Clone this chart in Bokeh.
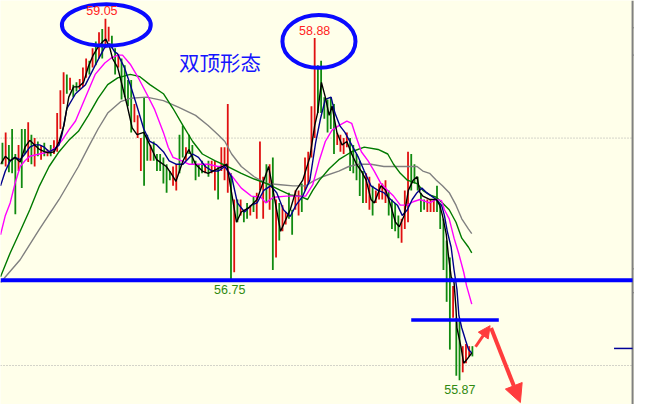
from bokeh.plotting import figure
from bokeh.models import Range1d, Arrow, NormalHead
from bokeh.core.properties import value
from bokeh.embed import file_html
from bokeh.resources import INLINE

# ---- price bars (bar index 0..146) ----
high = [57.96,58.05,57.94,58.08,57.86,57.94,58.08,58.08,58.14,58.03,
        58.00,57.97,57.94,57.96,57.90,57.94,57.98,58.22,58.42,58.58,
        58.56,58.53,58.47,58.49,58.52,58.62,58.70,58.68,58.79,58.85,
        58.93,58.96,59.05,58.98,58.90,58.79,58.74,58.70,58.64,58.51,
        58.51,58.30,58.20,58.00,58.36,58.03,57.94,57.97,57.86,57.86,
        57.83,57.77,57.71,57.75,57.77,58.03,58.11,57.92,58.03,57.94,
        57.80,57.77,57.80,57.77,57.80,57.80,57.80,57.75,57.92,57.92,
        58.30,57.69,57.46,57.46,57.46,57.37,57.43,57.41,57.49,57.52,
        57.97,57.66,57.77,57.77,57.83,57.46,57.43,57.41,57.35,57.52,
        57.37,57.54,57.54,57.60,57.83,57.88,58.28,58.88,58.64,58.68,
        58.36,58.34,58.36,58.30,58.05,58.03,58.00,58.05,58.00,57.94,
        57.86,57.80,57.71,57.69,57.66,57.58,57.54,57.60,57.60,57.63,
        57.54,57.46,57.43,57.32,57.29,57.54,57.88,57.86,57.77,57.66,
        57.52,57.46,57.46,57.46,57.46,57.58,57.41,57.29,57.10,56.95,
        56.70,56.42,56.39,56.17,56.19,56.17,56.17]
low = [57.77,57.75,57.70,57.69,57.33,57.71,57.56,57.86,57.79,57.77,
       57.75,57.84,57.81,57.84,57.84,57.84,57.86,57.88,58.08,58.30,
       58.39,58.42,58.36,58.41,58.43,58.45,58.53,58.56,58.62,58.64,
       58.70,58.70,58.79,58.85,58.79,58.56,58.62,58.34,58.36,58.28,
       58.05,58.14,58.00,57.71,57.58,57.80,57.80,57.80,57.71,57.71,
       57.60,57.52,57.63,57.58,57.54,57.69,57.83,57.80,57.86,57.77,
       57.63,57.66,57.69,57.69,57.66,57.69,57.54,57.46,57.71,57.63,
       57.52,56.75,56.82,57.26,57.32,57.26,57.29,57.32,57.35,57.29,
       57.54,57.29,57.43,57.37,56.84,56.95,57.10,57.18,57.24,57.29,
       57.15,57.37,57.32,57.35,57.54,57.60,57.83,58.00,58.22,58.22,
       58.17,58.05,58.08,57.86,57.94,57.88,57.86,57.92,57.71,57.69,
       57.63,57.49,57.43,57.43,57.37,57.32,57.43,57.46,57.46,57.43,
       57.32,57.20,57.18,57.12,57.08,57.20,57.26,57.54,57.60,57.54,
       57.35,57.37,57.35,57.35,57.35,57.35,57.20,56.84,56.56,56.14,
       56.42,55.91,55.87,55.94,56.02,56.08,56.08]
bull = [0,1,0,0,0,1,0,0,1,0,
        1,0,1,0,1,0,1,1,1,1,
        0,1,0,0,1,1,1,0,1,0,
        1,0,1,1,0,0,1,0,0,0,
        0,1,1,1,0,0,1,0,0,0,
        0,0,0,1,1,0,0,1,0,0,
        0,0,0,1,0,1,1,0,1,1,
        1,0,1,0,1,0,0,1,0,1,
        1,1,0,1,0,1,0,1,1,0,
        0,1,1,0,1,1,1,1,0,0,
        0,0,0,0,1,1,1,1,0,0,
        0,0,0,1,1,0,1,1,1,1,
        0,0,0,0,1,1,1,0,0,0,
        0,0,1,1,1,0,0,0,0,0,
        1,0,0,1,1,1,0]

# ---- moving averages: (bar index, price) ----
ma_black = [(-0.6,57.77),(0.9,57.84),(2.4,57.80),(3.9,57.83),(5.5,57.79),(7.0,57.92),(8.5,57.98),(10.0,57.94),
            (11.5,57.90),(13.0,57.88),(14.5,57.87),(16.1,57.88),(17.6,57.97),(19.1,58.11),(20.6,58.36),(22.1,58.45),
            (23.6,58.45),(25.2,58.49),(26.7,58.63),(28.2,58.73),(29.7,58.80),(31.2,58.85),(32.1,58.87),(33.3,58.80),
            (34.2,58.70),(35.8,58.62),(37.3,58.45),(38.8,58.28),(40.3,58.09),(41.8,58.03),(43.9,58.05),(45.8,57.94),
            (47.9,57.81),(50.9,57.75),(52.4,57.69),(53.9,57.62),(56.1,57.80),(57.9,57.90),(60.0,57.77),(62.1,57.71),
            (63.9,57.69),(68.2,57.75),(69.7,57.77),(72.7,57.26),(74.2,57.35),(76.7,57.39),(79.1,57.46),(81.2,57.63),
            (82.7,57.75),(84.2,57.52),(86.4,57.18),(89.4,57.37),(91.2,57.54),(93.3,57.63),(95.5,57.83),(97.0,58.11),
            (97.9,58.22),(99.1,58.49),(100.3,58.36),(101.5,58.20),(102.4,58.28),(103.9,58.05),(105.5,57.94),(107.0,57.97),
            (108.5,57.86),(110.0,57.77),(111.5,57.71),(113.0,57.63),(114.5,57.46),(115.5,57.43),(117.6,57.58),(119.1,57.54),
            (120.6,57.41),(122.1,57.26),(123.3,57.22),(124.8,57.32),(126.1,57.54),(127.6,57.63),(128.8,57.66),(129.7,57.52),
            (130.6,57.49),(132.7,57.46),(134.8,57.46),(135.8,57.41),(136.7,57.32),(137.9,57.15),(138.5,56.98),(139.4,56.78),
            (140.3,56.73),(140.9,56.50),(141.2,56.33),(142.4,56.17),(143.3,56.02),(144.2,56.05),(145.8,56.11)]
ma_blue = [(-0.6,57.58),(0.9,57.71),(2.4,57.80),(3.9,57.83),(5.5,57.81),(7.0,57.86),(8.5,57.92),(10.0,57.94),
           (11.5,57.94),(13.0,57.92),(14.5,57.88),(16.1,57.90),(17.6,57.94),(18.5,58.03),(20.0,58.26),(22.7,58.39),
           (25.8,58.47),(28.8,58.64),(31.8,58.80),(33.3,58.83),(34.8,58.76),(35.8,58.74),(37.9,58.62),(39.7,58.47),
           (41.8,58.28),(43.9,58.08),(45.8,57.97),(47.9,57.94),(50.0,57.88),(51.8,57.80),(53.9,57.77),(56.1,57.77),
           (59.1,57.86),(60.9,57.83),(63.0,57.75),(65.2,57.71),(67.0,57.71),(69.1,57.75),(71.2,57.66),(73.0,57.43),
           (75.2,57.35),(77.3,57.41),(79.1,57.43),(81.2,57.54),(83.3,57.58),(85.2,57.52),(87.3,57.37),(89.4,57.31),
           (91.2,57.41),(93.3,57.49),(95.5,57.63),(97.3,57.96),(98.8,58.17),(100.3,58.34),(102.1,58.36),(103.3,58.22),
           (104.8,58.11),(106.4,58.05),(108.5,57.94),(110.6,57.83),(112.4,57.71),(114.5,57.58),(116.7,57.54),(118.5,57.52),
           (120.6,57.46),(122.7,57.41),(124.2,57.32),(125.8,57.37),(127.3,57.46),(128.8,57.52),(130.3,57.56),(131.8,57.52),
           (133.3,57.49),(134.8,57.46),(136.4,57.41),(137.3,57.32),(138.2,57.18),(139.4,57.04),(140.3,56.84),(141.2,56.67),
           (141.8,56.44),(142.7,56.33),(143.9,56.22),(144.8,56.14),(145.8,56.11)]
ma_magenta = [(-0.6,57.15),(0.9,57.32),(2.4,57.43),(3.9,57.60),(5.5,57.75),(7.0,57.80),(8.5,57.84),(11.5,57.86),
              (14.5,57.88),(16.7,57.92),(18.5,57.98),(20.6,58.07),(22.7,58.15),(25.8,58.36),(28.8,58.56),(31.8,58.66),
              (33.6,58.70),(35.8,58.73),(37.3,58.73),(39.7,58.65),(42.4,58.52),(44.8,58.39),(47.3,58.25),(50.0,58.05),
              (51.5,57.92),(53.0,57.83),(54.8,57.81),(57.9,57.77),(60.9,57.77),(63.9,57.77),(67.0,57.75),(69.1,57.75),
              (71.2,57.67),(74.2,57.56),(77.3,57.49),(80.3,57.48),(81.8,57.43),(84.2,57.48),(88.2,57.49),(94.2,57.49),
              (96.4,57.59),(98.5,57.81),(100.3,57.97),(102.4,58.07),(104.5,58.11),(107.0,58.15),(108.5,58.13),(110.0,58.00),
              (111.5,57.88),(113.6,57.80),(115.5,57.71),(117.6,57.60),(119.7,57.54),(121.5,57.49),(123.6,57.41),(125.8,57.41),
              (127.6,57.44),(129.7,57.46),(132.7,57.43),(134.8,57.46),(136.4,57.45),(137.3,57.37),(138.8,57.29),(140.3,57.12),
              (141.8,56.98),(143.3,56.82),(144.2,56.70),(145.8,56.54)]
ma_green = [(-0.6,56.78),(2.4,56.99),(5.5,57.18),(8.5,57.37),(11.5,57.58),(14.5,57.75),(17.6,57.88),(20.6,57.98),
            (23.6,58.06),(26.7,58.20),(29.7,58.35),(32.7,58.47),(35.8,58.53),(39.7,58.56),(42.7,58.54),(45.8,58.47),
            (50.0,58.39),(53.0,58.26),(56.1,58.11),(59.1,57.97),(62.1,57.86),(66.1,57.80),(70.0,57.75),(74.2,57.69),
            (78.2,57.64),(82.1,57.60),(86.4,57.54),(89.4,57.50),(92.4,57.49),(94.8,57.46),(96.4,57.54),(98.5,57.63),
            (101.5,57.73),(104.5,57.81),(108.5,57.88),(112.4,57.92),(116.7,57.90),(119.7,57.86),(121.5,57.77),(123.6,57.69),
            (125.8,57.63),(128.8,57.60),(130.6,57.54),(132.7,57.50),(134.8,57.48),(136.7,57.43),(138.8,57.37),(140.9,57.26),
            (142.7,57.12),(144.8,57.04),(145.8,56.99)]
ma_gray = [(-0.6,56.73),(5.5,56.93),(11.5,57.20),(17.6,57.46),(23.6,57.75),(26.7,57.92),(29.7,58.08),(32.7,58.22),
           (36.7,58.32),(39.7,58.35),(44.8,58.36),(50.0,58.33),(54.8,58.27),(60.0,58.20),(63.9,58.11),(67.0,58.03),
           (69.1,57.97),(71.2,57.86),(74.2,57.75),(78.2,57.66),(82.1,57.60),(86.4,57.59),(90.3,57.58),(94.2,57.58),
           (96.4,57.62),(99.4,57.66),(104.5,57.71),(107.6,57.75),(110.6,57.77),(114.5,57.77),(118.5,57.75),(124.5,57.75),
           (128.8,57.75),(130.6,57.71),(132.7,57.69),(134.8,57.63),(136.7,57.58),(138.8,57.52),(140.9,57.41),(142.7,57.29),
           (144.8,57.20),(145.8,57.16)]

# ---- annotations ----
grid_levels = [58.0, 56.0]
support_level = 56.75
neckline_level = 56.40
neckline_span = [127.0, 154.2]
last_price = 56.15
last_span = [190.0, 195.76]
axis_ticks = [58.97, 58.73, 56.85, 56.64]
peak_texts = ["59.05", "58.88"]
peak_x = [30.9, 97.0]
peak_y = [59.12, 58.95]
low_texts = ["56.75", "55.87"]
low_x = [70.6, 142.1]
low_y = [56.67, 55.79]
ell_x = [32.27, 98.33]
ell_y = [58.994, 58.85]
ell_w = [27.6, 22.7]
ell_h = [0.364, 0.465]
title_text = ["双顶形态"]
title_x = [67.6]
title_y = [58.67]
arrow_up = (146.97, 56.165, 151.5, 56.35)
arrow_down = (151.8, 56.33, 160.9, 55.674)

X0, X1 = -0.606, 196.36
Y0, Y1 = 55.657, 59.21
XR = 195.76
BG = "#ffffea"
RED_BAR = "#e01010"
GREEN_BAR = "#108a10"
ARROW_RED = "#ff3c3c"

p = figure(width=634, height=404, x_range=Range1d(X0, X1), y_range=Range1d(Y0, Y1),
           output_backend="svg", toolbar_location=None,
           x_axis_location=None, y_axis_location=None, min_border=0)
p.background_fill_color = BG
p.border_fill_color = BG
p.outline_line_color = None
p.grid.grid_line_color = None

# grid dotted lines
p.segment(x0=[X0] * len(grid_levels), y0=grid_levels, x1=[XR] * len(grid_levels), y1=grid_levels,
          line_color="#a8a8a8", line_dash="1 2", line_width=1)

# bars
idx = list(range(len(high)))
colors = [RED_BAR if b else GREEN_BAR for b in bull]
p.segment(x0=idx, y0=low, x1=idx, y1=high, line_color=colors, line_width=1.8)

# moving averages
for pts, col in [(ma_gray, "#808080"), (ma_green, "#007a00"), (ma_magenta, "#ff00ff"),
                 (ma_blue, "#00008b"), (ma_black, "#000000")]:
    xs = [a for a, b in pts]
    ys = [b for a, b in pts]
    p.line(xs, ys, line_color=col, line_width=1.4)

# right border and ticks
p.segment(x0=[XR], y0=[Y0], x1=[XR], y1=[Y1], line_color="#808080", line_width=2)
p.segment(x0=[XR] * len(axis_ticks), y0=axis_ticks, x1=[X1] * len(axis_ticks), y1=axis_ticks,
          line_color="#808080", line_width=1)

# support / neckline / last price
p.segment(x0=[X0], y0=[support_level], x1=[XR], y1=[support_level], line_color="#0000ff", line_width=4)
p.segment(x0=[neckline_span[0]], y0=[neckline_level], x1=[neckline_span[1]], y1=[neckline_level],
          line_color="#0000ff", line_width=3.5)
p.segment(x0=[last_span[0]], y0=[last_price], x1=[last_span[1]], y1=[last_price],
          line_color="#000099", line_width=1.5)

# ellipses
p.ellipse(x=ell_x, y=ell_y, width=ell_w, height=ell_h, fill_color=None,
          line_color="#0a0aff", line_width=4)

# texts
p.text(x=peak_x, y=peak_y, text=peak_texts, text_font=value("Liberation Sans"), text_font_size="12.5px",
       text_color="#ff2222", text_align="center", text_baseline="middle")
p.text(x=low_x, y=low_y, text=low_texts, text_font=value("Liberation Sans"), text_font_size="12.5px",
       text_color="#2f8a10", text_align="center", text_baseline="middle")
p.text(x=title_x, y=title_y, text=title_text, text_font=value("Noto Sans CJK SC"), text_font_size="20.5px",
       text_color="#1414ff", text_align="center", text_baseline="middle")

# arrows
p.add_layout(Arrow(end=NormalHead(size=12, fill_color=ARROW_RED, line_color=ARROW_RED),
                   x_start=arrow_up[0], y_start=arrow_up[1], x_end=arrow_up[2], y_end=arrow_up[3],
                   line_color=ARROW_RED, line_width=3))
p.add_layout(Arrow(end=NormalHead(size=18, fill_color=ARROW_RED, line_color=ARROW_RED),
                   x_start=arrow_down[0], y_start=arrow_down[1], x_end=arrow_down[2], y_end=arrow_down[3],
                   line_color=ARROW_RED, line_width=4))

open("out.html", "w").write(file_html(p, INLINE))
